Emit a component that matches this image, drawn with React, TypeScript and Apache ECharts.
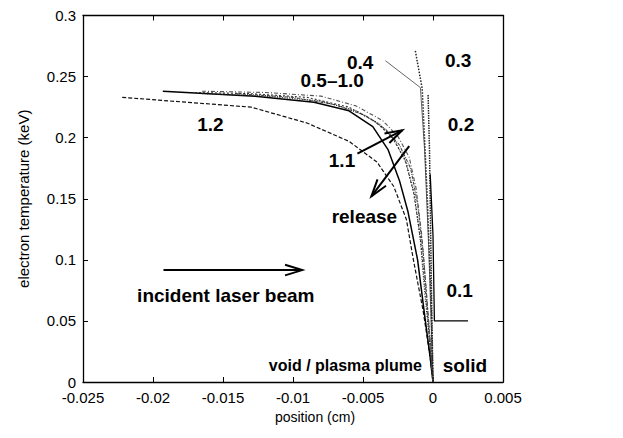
import React, { useEffect, useRef } from "react";
import * as echarts from "echarts";

// Electron temperature profiles (keV) vs position (cm) at successive times (ns)
const t01: number[][] = [[0.0025, 0.05], [0.0001, 0.05], [0, 0.12], [-0.0002, 0.17]];
const t02: number[][] = [[-0.00035, 0.235], [-0.00025, 0.19], [-0.0002, 0.149], [-0.0001, 0.067], [0, 0]];
const t03: number[][] = [[-0.00126, 0.271], [-0.00077, 0.24], [-0.0004, 0.149], [-0.00014, 0.067], [0, 0]];
const t04: number[][] = [[-0.0034, 0.263], [-0.0009, 0.241], [-0.0006, 0.19], [-0.0003, 0.108], [0, 0]];
const t05: number[][] = [[-0.0165, 0.238], [-0.012, 0.237], [-0.008, 0.234], [-0.0055, 0.226], [-0.0036, 0.214], [-0.0025, 0.201], [-0.0017, 0.184], [-0.0012, 0.158], [-0.0008, 0.12], [-0.0005, 0.078], [-0.0002, 0.033], [0, 0]];
const t06: number[][] = [[-0.0165, 0.236], [-0.012, 0.234], [-0.008, 0.23], [-0.0055, 0.222], [-0.0038, 0.211], [-0.0027, 0.197], [-0.0019, 0.179], [-0.0013, 0.152], [-0.0009, 0.115], [-0.0006, 0.074], [-0.0002, 0.028], [0, 0]];
const t08: number[][] = [[-0.014, 0.236], [-0.01, 0.233], [-0.007, 0.227], [-0.0048, 0.218], [-0.0034, 0.207], [-0.0024, 0.194], [-0.0016, 0.175], [-0.0011, 0.146], [-0.0007, 0.106], [-0.0004, 0.062], [-0.0001, 0.02], [0, 0]];
const t10: number[][] = [[-0.017, 0.237], [-0.013, 0.236], [-0.009, 0.233], [-0.006, 0.225], [-0.0041, 0.213], [-0.0029, 0.2], [-0.002, 0.182], [-0.0014, 0.156], [-0.0009, 0.118], [-0.0005, 0.07], [-0.0002, 0.027], [0, 0]];
const t11: number[][] = [[-0.0193, 0.238], [-0.0127, 0.234], [-0.0085, 0.229], [-0.006, 0.222], [-0.0043, 0.209], [-0.0032, 0.19], [-0.0024, 0.165], [-0.0018, 0.14], [-0.0011, 0.1], [-0.0006, 0.055], [-0.0002, 0.02], [0, 0]];
const t12: number[][] = [[-0.0222, 0.233], [-0.013, 0.225], [-0.009, 0.212], [-0.006, 0.197], [-0.004, 0.18], [-0.0028, 0.16], [-0.0019, 0.133], [-0.0014, 0.1], [-0.0007, 0.058], [-0.0002, 0.02], [0, 0]];

// Text labels placed at data coordinates [x, y]
const labels: { text: string; at: number[]; size: number; align: string }[] = [
  { text: "0.4", at: [-0.0052, 0.2617], size: 19, align: "center" },
  { text: "0.3", at: [0.0018, 0.263], size: 19, align: "center" },
  { text: "0.2", at: [0.002, 0.211], size: 19, align: "center" },
  { text: "0.5\u20131.0", at: [-0.0072, 0.247], size: 19, align: "center" },
  { text: "1.2", at: [-0.0159, 0.211], size: 19, align: "center" },
  { text: "1.1", at: [-0.0065, 0.1815], size: 19, align: "center" },
  { text: "release", at: [-0.0049, 0.1357], size: 19, align: "center" },
  { text: "incident laser beam", at: [-0.0148, 0.0711], size: 19, align: "center" },
  { text: "0.1", at: [0.0019, 0.0752], size: 19, align: "center" },
  { text: "void / plasma plume", at: [-0.0008, 0.0131], size: 16, align: "right" },
  { text: "solid", at: [0.0007, 0.0131], size: 19, align: "left" },
];

// Arrows: [from, to] in data coordinates
const arrows: number[][][] = [
  [[-0.01925, 0.0916], [-0.00934, 0.0916]],
  [[-0.0054, 0.187], [-0.0022, 0.206]],
  [[-0.0017, 0.193], [-0.0044, 0.152]],
];

const xTicks = { min: -0.025, max: 0.005, step: 0.005 };
const yTicks = { min: 0, max: 0.3, step: 0.05 };

const FONT = "Liberation Sans, Arial, Helvetica, sans-serif";

function line(data: number[][], color: string, width: number, type: any) {
  return {
    type: "line",
    data,
    showSymbol: false,
    symbol: "none",
    lineStyle: { color, width, type },
    z: 3,
  };
}

export default function App() {
  const ref = useRef<HTMLDivElement>(null);

  useEffect(() => {
    if (!ref.current) return;
    const chart = echarts.init(ref.current, null, { renderer: "svg" });
    const fmt = (v: number) => String(+v.toFixed(4));
    const axisCommon = {
      axisLine: { show: true, onZero: false, lineStyle: { color: "#000", width: 1.3 } },
      axisTick: { show: true, inside: true, length: 5, lineStyle: { color: "#000", width: 1 } },
      splitLine: { show: false },
    };
    const labelStyle = { color: "#000", fontFamily: FONT, fontSize: 15 };
    chart.setOption({
      animation: false,
      backgroundColor: "#fff",
      grid: { left: 60, right: 112, top: 7, bottom: 48, containLabel: false },
      xAxis: [
        {
          type: "value", position: "bottom", min: xTicks.min, max: xTicks.max, interval: xTicks.step,
          ...axisCommon,
          axisLabel: { ...labelStyle, margin: 8, formatter: fmt },
          name: "position (cm)", nameLocation: "middle", nameGap: 19,
          nameTextStyle: { ...labelStyle, fontSize: 14, verticalAlign: "top", padding: [0, 0, 0, 44] },
        },
        {
          type: "value", position: "top", min: xTicks.min, max: xTicks.max, interval: xTicks.step,
          ...axisCommon, axisLabel: { show: false },
        },
      ],
      yAxis: [
        {
          type: "value", position: "left", min: yTicks.min, max: yTicks.max, interval: yTicks.step,
          ...axisCommon,
          axisLabel: { ...labelStyle, margin: 7, formatter: fmt },
          name: "electron temperature (keV)", nameLocation: "middle", nameGap: 52,
          nameTextStyle: { ...labelStyle },
        },
        {
          type: "value", position: "right", min: yTicks.min, max: yTicks.max, interval: yTicks.step,
          ...axisCommon, axisLabel: { show: false },
        },
      ],
      series: [
        line(t12, "#111", 1.2, [4, 2]),
        line(t11, "#000", 1.5, "solid"),
        line(t10, "#333", 1.1, [2, 2]),
        line(t08, "#444", 1.1, [3, 1, 1, 1]),
        line(t06, "#222", 1.1, [1, 1.5]),
        line(t05, "#555", 1.1, [4, 2, 1, 2]),
        line(t04, "#666", 1, "solid"),
        line(t03, "#222", 1.5, [1.5, 1.5]),
        line(t02, "#222", 1.5, [1.5, 1]),
        line(t01, "#000", 1.3, "solid"),
      ],
    });

    const px = (p: number[]) => chart.convertToPixel({ gridIndex: 0 }, p) as number[];
    const graphics: any[] = [];
    labels.forEach((l) => {
      const [x, y] = px(l.at);
      graphics.push({
        type: "text", x, y, z: 10,
        style: {
          text: l.text, fill: "#000", font: `bold ${l.size}px ${FONT}`,
          textAlign: l.align, textVerticalAlign: "middle",
        },
      });
    });
    arrows.forEach(([a, b]) => {
      const [x0, y0] = px(a);
      const [x1, y1] = px(b);
      const ang = Math.atan2(y1 - y0, x1 - x0);
      const L = 18, spread = 0.3;
      const h1 = [x1 - L * Math.cos(ang - spread), y1 - L * Math.sin(ang - spread)];
      const h2 = [x1 - L * Math.cos(ang + spread), y1 - L * Math.sin(ang + spread)];
      graphics.push({ type: "line", z: 10, shape: { x1: x0, y1: y0, x2: x1, y2: y1 }, style: { stroke: "#000", lineWidth: 2 } });
      graphics.push({ type: "polyline", z: 10, shape: { points: [h1, [x1, y1], h2] }, style: { stroke: "#000", lineWidth: 2, fill: null } });
    });
    chart.setOption({ graphic: graphics });

    return () => chart.dispose();
  }, []);

  return <div ref={ref} style={{ width: 607, height: 422 }} />;
}
